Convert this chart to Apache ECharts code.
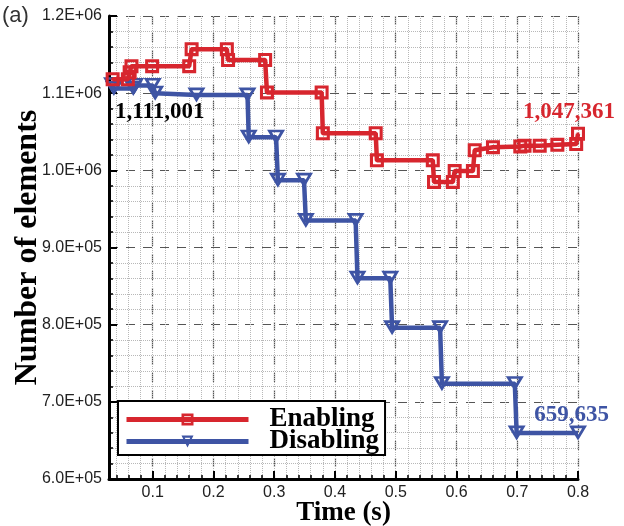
<!DOCTYPE html>
<html>
<head>
<meta charset="utf-8">
<title>Number of elements</title>
<script src="https://cdn.jsdelivr.net/npm/echarts@6/dist/echarts.min.js"></script>
<style>
html,body{margin:0;padding:0;background:#fff;}
#main{width:624px;height:526px;}
</style>
</head>
<body>
<div id="main"></div>
<script>
'use strict';

// time (s) / element count, both corners of every step are listed
var enablingTime = [0.034, 0.059, 0.062, 0.065, 0.099, 0.160, 0.164, 0.222, 0.224, 0.285, 0.288, 0.378, 0.380, 0.467, 0.469, 0.561, 0.563, 0.594, 0.597, 0.627, 0.630, 0.660, 0.705, 0.712, 0.737, 0.766, 0.797, 0.800];
var enablingCount = [1118000, 1118000, 1127000, 1135000, 1135000, 1135000, 1157000, 1157000, 1143000, 1143000, 1101000, 1101000, 1048000, 1048000, 1013000, 1013000, 985000, 985000, 999000, 999000, 1026000, 1030000, 1031000, 1032000, 1032000, 1033000, 1034000, 1047361];

var disablingTime = [0.033, 0.036, 0.068, 0.071, 0.100, 0.104, 0.172, 0.256, 0.258, 0.303, 0.306, 0.349, 0.352, 0.434, 0.437, 0.491, 0.494, 0.573, 0.576, 0.696, 0.699, 0.800];
var disablingCount = [1111001, 1106000, 1106000, 1110000, 1110000, 1100000, 1097500, 1097500, 1043000, 1043000, 987000, 987000, 935000, 935000, 860000, 860000, 796000, 796000, 723500, 723500, 659635, 659635];

var seriesNames = ['Enabling', 'Disabling'];
var timeMin = 0.028, timeMax = 0.8;
var countMin = 600000, countMax = 1200000, countStep = 100000;

var red = '#d7262e';
var blue = '#3e54a4';
var serif = '"Liberation Serif", "Times New Roman", serif';
var sans = '"Liberation Sans", Arial, sans-serif';

function pairs(xs, ys) {
    var out = [];
    for (var i = 0; i < xs.length; i++) {
        out.push([xs[i], ys[i]]);
    }
    return out;
}

// 1.2E+06 style
function sciLabel(v) {
    var p = v.toExponential(1).split('e');
    var e = parseInt(p[1], 10);
    var s = e < 0 ? '-' : '+';
    e = Math.abs(e);
    return p[0] + 'E' + s + (e < 10 ? '0' : '') + e;
}

function endLabel(t, v, text, color, dx, dy, align) {
    return {
        coord: [t, v],
        label: {
            show: true,
            formatter: text,
            position: [dx, dy],
            align: align,
            verticalAlign: 'middle',
            color: color,
            fontFamily: serif,
            fontWeight: 'bold',
            fontSize: 23
        }
    };
}

// hollow marker shapes
var squareMark = 'path://M0,0H10V10H0Z M2.2,2.2V7.8H7.8V2.2Z M4,4H6V6H4Z';
var triangleMark = 'path://M0,0L10,0L5,9Z M2.7,1.6L5,5.7L7.3,1.6Z';

var chart = echarts.init(document.getElementById('main'));

var option = {
    animation: false,
    backgroundColor: '#fff',
    grid: {left: 109, top: 16, width: 469, height: 463, outerBoundsMode: 'none', containLabel: false},
    graphic: [{
        type: 'text', left: 2, top: 5,
        style: {text: '(a)', fontSize: 22, fontFamily: sans, fill: '#333'}
    }],
    legend: {
        left: 118, top: 401,
        orient: 'vertical',
        data: seriesNames,
        itemWidth: 122, itemHeight: 15, itemGap: -5,
        padding: [5, 6, 0, 6],
        borderColor: '#000', borderWidth: 2,
        backgroundColor: '#fff',
        lineStyle: {width: 5},
        textStyle: {fontFamily: serif, fontWeight: 'bold', fontSize: 27, color: '#000', lineHeight: 22, padding: [0, 0, 0, 16]}
    },
    xAxis: [{
        type: 'value',
        min: timeMin, max: timeMax, splitNumber: 8,
        axisLine: {show: true, lineStyle: {color: '#000', width: 3}},
        axisTick: {show: true, inside: true, length: 8, lineStyle: {color: '#000', width: 2}},
        splitLine: {show: true, lineStyle: {color: '#555', type: [9, 8], width: 1.2}},
        axisLabel: {
            showMinLabel: false, margin: 6, color: '#222', fontSize: 16, fontFamily: sans,
            formatter: function (v) { return v.toFixed(1); }
        },
        name: 'Time (s)', nameLocation: 'middle', nameGap: 21, nameMoveOverlap: false,
        nameTextStyle: {fontFamily: serif, fontWeight: 'bold', fontSize: 27, color: '#000', verticalAlign: 'top'}
    }, {
        // minor grid every 0.02
        type: 'value', position: 'bottom',
        min: timeMin, max: timeMax, splitNumber: 38,
        axisLine: {show: false},
        axisTick: {show: true, inside: true, length: 4, lineStyle: {color: '#000', width: 1.5}},
        axisLabel: {show: false},
        splitLine: {show: true, lineStyle: {color: '#b8b8b8', type: 'dotted', width: 1}}
    }],
    yAxis: {
        type: 'value',
        min: countMin, max: countMax, interval: countStep,
        axisLine: {show: true, lineStyle: {color: '#000', width: 3}},
        axisTick: {show: true, inside: true, length: 8, lineStyle: {color: '#000', width: 2}},
        minorTick: {show: true, splitNumber: 5, length: 4, lineStyle: {color: '#000', width: 1.5}},
        splitLine: {show: true, lineStyle: {color: '#555', type: [9, 8], width: 1.2}},
        minorSplitLine: {show: true, lineStyle: {color: '#b8b8b8', type: 'dotted', width: 1}},
        axisLabel: {formatter: sciLabel, color: '#222', fontSize: 16, fontFamily: sans, margin: 7},
        name: 'Number of elements', nameLocation: 'middle', nameGap: 65, nameMoveOverlap: false,
        nameTextStyle: {fontFamily: serif, fontWeight: 'bold', fontSize: 32, color: '#000'}
    },
    series: [{
        name: seriesNames[0],
        type: 'line',
        data: pairs(enablingTime, enablingCount),
        symbol: squareMark, symbolSize: 14,
        showAllSymbol: true,
        lineStyle: {color: red, width: 4.5},
        itemStyle: {color: red},
        emphasis: {disabled: true},
        markPoint: {
            symbol: 'circle', symbolSize: 0,
            data: [endLabel(0.8, 1047361, '1,047,361', red, 37, -22, 'right')]
        },
        z: 3
    }, {
        name: seriesNames[1],
        type: 'line',
        data: pairs(disablingTime, disablingCount),
        symbol: triangleMark, symbolSize: [18, 15],
        showAllSymbol: true,
        lineStyle: {color: blue, width: 4.5},
        itemStyle: {color: blue},
        emphasis: {disabled: true},
        markPoint: {
            symbol: 'circle', symbolSize: 0,
            data: [
                endLabel(0.8, 659635, '659,635', blue, 31, -18, 'right'),
                endLabel(0.033, 1111001, '1,111,001', '#000', 3, 27, 'left')
            ]
        },
        z: 2
    }]
};

chart.setOption(option);
</script>
</body>
</html>
